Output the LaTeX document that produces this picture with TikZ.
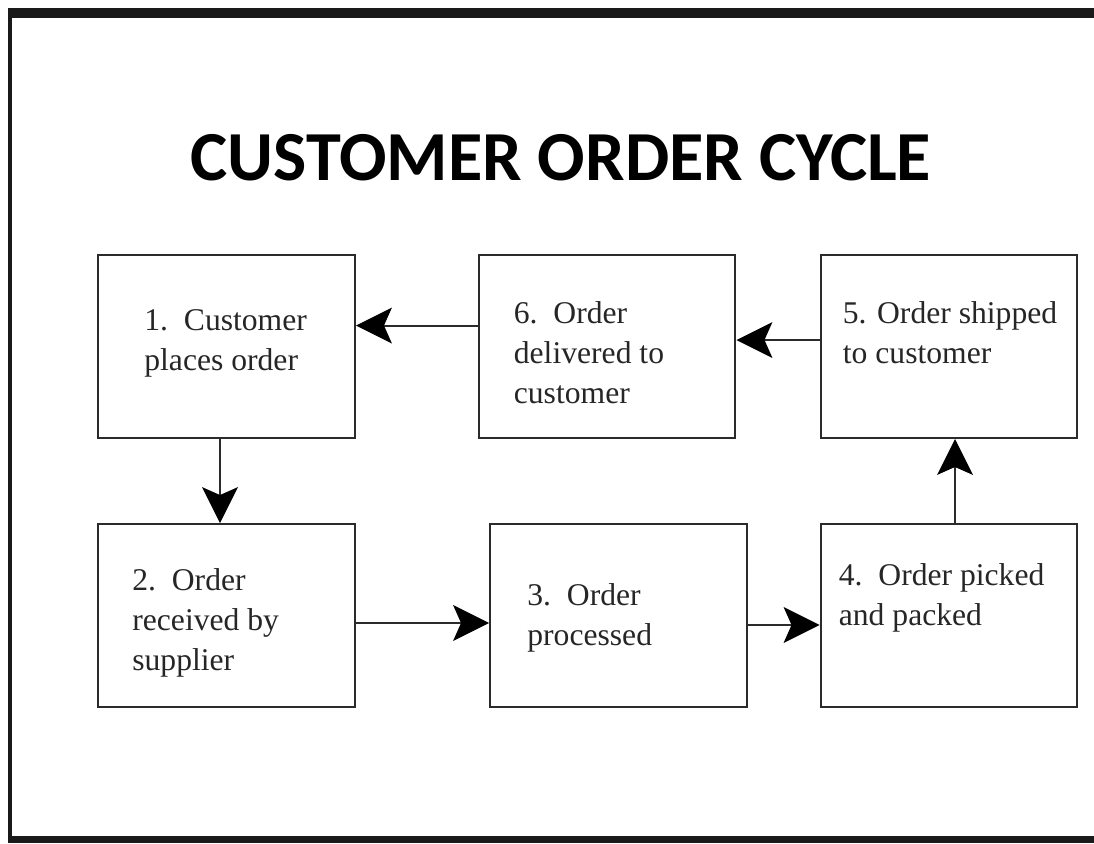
\documentclass[tikz,border=0pt]{standalone}
\usepackage{fontspec}
\setmainfont{Liberation Serif}
\newfontfamily\titlefont{Carlito}
\usetikzlibrary{arrows.meta}
\usetikzlibrary{positioning}
\usetikzlibrary{calc}
\definecolor{framegray}{HTML}{1A1A1A}
\definecolor{linegray}{HTML}{2B2B2B}

\begin{document}
\begin{tikzpicture}
    [
    x=0.02cm, y=-0.02cm,
    stepbox/.style = {draw=linegray,line width=0.04cm,minimum width=5.14cm,minimum height=3.66cm,inner sep=0pt},
    steptext/.style = {anchor=north west,inner sep=0pt,align=left,text=black!85,font=\fontsize{18}{22.8}\selectfont},
    flow/.style = {line width=0.04cm,draw=linegray,-{Stealth[length=0.72cm,width=0.72cm,inset=0.16cm,fill=black,line width=0pt]}}
    ]
\useasboundingbox (0,0) rectangle (1094,843);
\fill[framegray] (8,8) rectangle (1094,18);
\fill[framegray] (8,8) rectangle (12,843);
\fill[framegray] (8,836) rectangle (1094,843);

\node[anchor=base,font=\titlefont\bfseries\fontsize{40}{48}\selectfont] (title) at (561,180) {CUSTOMER ORDER CYCLE};

\node[stepbox] (b1) at (226.5,346.5) {};
\node[stepbox] (b6) at (607,346.5) {};
\node[stepbox] (b5) at (949,346.5) {};
\node[stepbox] (b2) at (226.5,615.5) {};
\node[stepbox] (b3) at (618.5,615.5) {};
\node[stepbox] (b4) at (949,615.5) {};

\node[steptext] (t1) at ($(b1.north west)+(47,55)$) {1.\ \ Customer\\places order};
\node[steptext] (t6) at ($(b6.north west)+(36,47)$) {6.\ \ Order\\delivered to\\customer};
\node[steptext] (t5) at ($(b5.north west)+(23,47)$) {5. Order shipped\\to customer};
\node[steptext] (t2) at ($(b2.north west)+(35,45)$) {2.\ \ Order\\received by\\supplier};
\node[steptext] (t3) at ($(b3.north west)+(38,60)$) {3.\ \ Order\\processed};
\node[steptext] (t4) at ($(b4.north west)+(19,40)$) {4.\ \ Order picked\\and packed};

\draw[flow] ([yshift=0.42cm]b6.west) -- ([yshift=0.42cm]b1.east);
\draw[flow] ([yshift=0.13cm]b5.west) -- ([yshift=0.13cm]b6.east);
\draw[flow] ([xshift=-0.13cm]b1.south) -- ([xshift=-0.13cm]b2.north);
\draw[flow] ([yshift=-0.15cm]b2.east) -- ([yshift=-0.15cm]b3.west);
\draw[flow] ([yshift=-0.19cm]b3.east) -- ([yshift=-0.19cm]b4.west);
\draw[flow] ([xshift=0.12cm]b4.north) -- ([xshift=0.12cm]b5.south);
\end{tikzpicture}
\end{document}
